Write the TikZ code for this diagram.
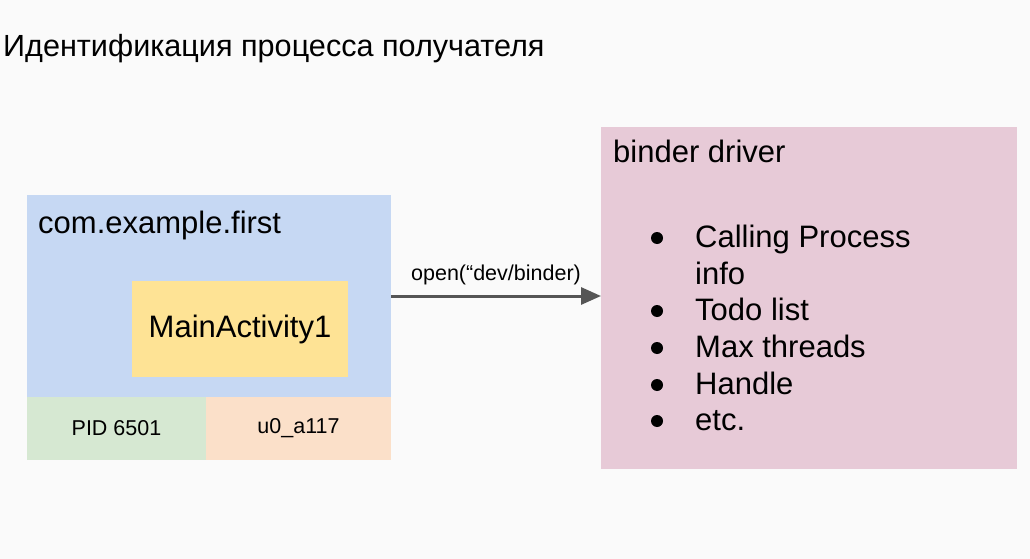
\documentclass[tikz,border=0pt]{standalone}
\usepackage{fontspec}
\setmainfont{Liberation Sans}
\usetikzlibrary{arrows.meta}

\definecolor{fond}{HTML}{FAFAFA}
\definecolor{bleu}{HTML}{C6D8F3}
\definecolor{jaune}{HTML}{FEE395}
\definecolor{vert}{HTML}{D6E8D2}
\definecolor{orange}{HTML}{FBE0C9}
\definecolor{rose}{HTML}{E7CAD7}
\definecolor{fleche}{HTML}{555555}

\tikzset{
  boite/.style={rectangle, inner sep=0pt, outer sep=0pt},
  grand/.style={font=\fontsize{31}{37}\selectfont, inner sep=0pt},
  petit/.style={font=\fontsize{21.5}{25}\selectfont, inner sep=0pt},
}

\begin{document}
\begin{tikzpicture}[x=1pt,y=-1pt]
    % Fond
    \fill[fond] (0,0) rectangle (1030,559);
    \useasboundingbox (0,0) rectangle (1030,559);

    % Titre
    \node[grand, font=\fontsize{30.6}{37}\selectfont, anchor=base west] (titre) at (3,57) {Идентификация процесса получателя};

    % Processus appelant
    \node[boite, fill=bleu, minimum width=364pt, minimum height=202pt] (proc) at (209,296) {};
    \node[grand, anchor=base west] (nom) at (38,233) {com.example.first};
    \node[boite, fill=jaune, minimum width=216pt, minimum height=96pt, grand] (act) at (240,329) {MainActivity1};
    \node[boite, fill=vert, minimum width=179pt, minimum height=63pt, petit] (pid) at (116.5,428.5) {PID 6501};
    \node[boite, fill=orange, minimum width=185pt, minimum height=63pt, petit] (uid) at (298.5,428.5) {u0\_a117};

    % Driver
    \node[boite, fill=rose, minimum width=416pt, minimum height=342pt] (drv) at (809,298) {};
    \node[grand, anchor=base west] (titredrv) at (613,162) {binder driver};

    % Liste
    \foreach \yb/\txt [count=\i] in {247/Calling Process, 320/Todo list, 357/Max threads, 394/Handle, 430/etc.} {
        \fill (657,\yb-9) circle (6);
        \node[grand, anchor=base west] (item\i) at (695,\yb) {\txt};
    }
    \node[grand, anchor=base west] (info) at (695,284) {info};

    % Appel open
    \draw[fleche, line width=3pt, -{Triangle[length=20pt, width=17pt]}] (proc.east) -- (proc.east -| drv.west)
        node[midway, above=10pt, petit, text=black] (open) {open(“dev/binder)};
\end{tikzpicture}
\end{document}
